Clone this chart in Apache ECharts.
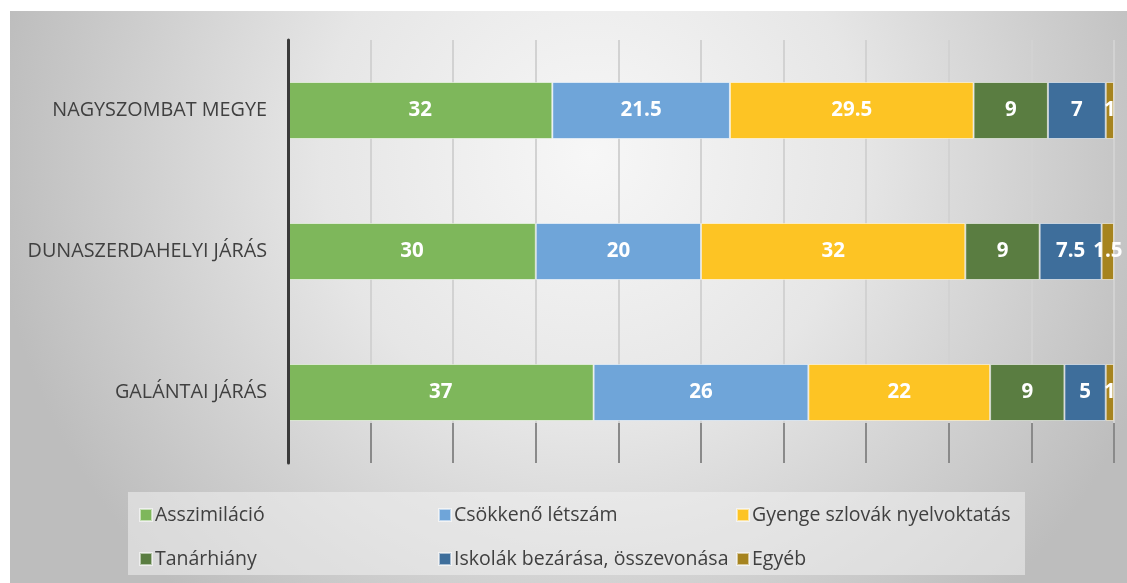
<!DOCTYPE html>
<html>
<head>
<meta charset="utf-8">
<script src="https://cdn.jsdelivr.net/npm/echarts@6/dist/echarts.min.js"></script>
<style>
html,body{margin:0;padding:0;background:#fff;}
#c{width:1127px;height:583px;}
</style>
</head>
<body>
<div id="c"></div>
<script>
const categories = ['NAGYSZOMBAT MEGYE', 'DUNASZERDAHELYI JÁRÁS', 'GALÁNTAI JÁRÁS'];
const seriesNames = ['Asszimiláció', 'Csökkenő létszám', 'Gyenge szlovák nyelvoktatás', 'Tanárhiány', 'Iskolák bezárása, összevonása', 'Egyéb'];
const asszimilacio = [32, 30, 37];
const csokkeno = [21.5, 20, 26];
const gyenge = [29.5, 32, 22];
const tanarhiany = [9, 9, 9];
const iskolak = [7, 7.5, 5];
const egyeb = [1, 1.5, 1];
const xTicks = [0, 10, 20, 30, 40, 50, 60, 70, 80, 90, 100];

const colors = ['#7eb75b', '#6fa5d9', '#fdc424', '#5a7d41', '#3e6e9b', '#a6841f'];
const values = [asszimilacio, csokkeno, gyenge, tanarhiany, iskolak, egyeb];
const FONT = 'Open Sans';

const chart = echarts.init(document.getElementById('c'), null, {renderer: 'canvas'});

const series = values.map((v, i) => ({
  name: seriesNames[i],
  type: 'bar',
  stack: 'total',
  data: v,
  barWidth: 57,
  itemStyle: {color: colors[i], borderColor: 'rgba(255,255,255,0.55)', borderWidth: 1},
  label: {
    show: true, position: 'inside', color: '#fff', fontWeight: 'bold',
    fontSize: 20.5, fontFamily: FONT
  },
  emphasis: {disabled: true}
}));

function legendCol(left, names) {
  return {
    left: left, top: 500, orient: 'vertical', itemGap: 24,
    icon: 'rect', itemWidth: 12, itemHeight: 12,
    data: names,
    textStyle: {color: '#404040', fontSize: 19.5, fontFamily: FONT, padding: [0, 0, 0, -2]},
    selectedMode: false
  };
}

chart.setOption({
  animation: false,
  graphic: [
    {
      type: 'rect', left: 10, top: 11, z: -10, silent: true,
      shape: {width: 1117, height: 572},
      style: {
        fill: {
          type: 'radial', x: 0.52, y: 0.25, r: 1.05,
          colorStops: [
            {offset: 0, color: '#f7f7f7'},
            {offset: 0.45, color: '#e6e6e6'},
            {offset: 1, color: '#bdbdbd'}
          ]
        }
      }
    },
    {
      type: 'rect', left: 128, top: 492, z: -5, silent: true,
      shape: {width: 897, height: 83},
      style: {fill: 'rgba(240,240,240,0.55)'}
    }
  ],
  legend: [
    legendCol(134, [seriesNames[0], seriesNames[3]]),
    legendCol(433, [seriesNames[1], seriesNames[4]]),
    legendCol(731, [seriesNames[2], seriesNames[5]])
  ],
  grid: {left: 288, right: 13, top: 40, bottom: 120, containLabel: false},
  xAxis: {
    type: 'value', min: xTicks[0], max: xTicks[xTicks.length - 1], interval: 10,
    axisLine: {show: false},
    axisLabel: {show: false},
    axisTick: {show: true, inside: true, length: 40, lineStyle: {color: '#8a8a8a', width: 2}},
    splitLine: {show: true, lineStyle: {color: '#d2d2d2', width: 2}}
  },
  yAxis: {
    type: 'category', data: categories, inverse: true, z: 10,
    axisLine: {show: true, lineStyle: {color: '#3a3a3a', width: 3}},
    axisTick: {show: false},
    axisLabel: {color: '#404040', fontSize: 19.8, fontFamily: FONT, margin: 21}
  },
  series: series
});
</script>
</body>
</html>
